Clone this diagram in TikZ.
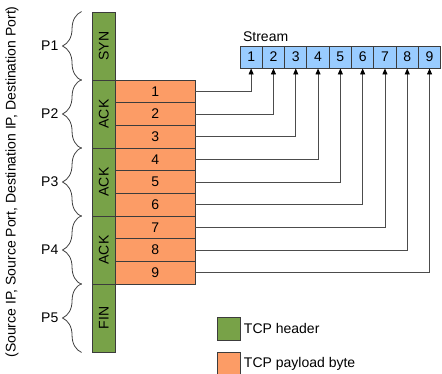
\documentclass[tikz,border=0pt]{standalone}
\usepackage{fontspec}
\setmainfont{Liberation Sans}
\usetikzlibrary{arrows.meta,decorations.pathreplacing}
\definecolor{hdrgreen}{RGB}{120,162,72}
\definecolor{payorange}{RGB}{252,156,102}
\definecolor{streamblue}{RGB}{153,204,255}
\definecolor{edgegray}{RGB}{60,60,60}
\tikzset{
  hdr/.style={draw=edgegray, fill=hdrgreen, line width=0.9pt, minimum width=23.7pt, minimum height=68pt, inner sep=0pt},
  pay/.style={draw=edgegray, fill=payorange, line width=0.9pt, minimum width=79.3pt, minimum height=22.67pt, inner sep=0pt},
  sbox/.style={draw=edgegray, fill=streamblue, line width=0.9pt, minimum width=22.3pt, minimum height=22pt, inner sep=0pt},
  conn/.style={draw=black!70, line width=0.9pt, -{Triangle[length=6pt,width=5pt,black]}},
  brc/.style={draw=black!75, line width=0.8pt, decorate, decoration={brace, amplitude=19pt}},
  lgbox/.style={draw=edgegray, fill=#1, line width=0.9pt, minimum width=23pt, minimum height=23pt, inner sep=0pt},
}
\begin{document}
\begin{tikzpicture}[x=1pt, y=-1pt, font=\fontsize{14}{16}\selectfont]
\clip (0,0) rectangle (442,373);
\useasboundingbox (0,0) rectangle (442,373);

% vertical label
\node[rotate=90] (tuple) at (12,182) {(Source IP, Source Port, Destination IP, Destination Port)};

% header column
\node[hdr] (h1) at (103.85,46) {\rotatebox{90}{SYN}};
\node[hdr] (h2) at (103.85,114) {\rotatebox{90}{ACK}};
\node[hdr] (h3) at (103.85,182) {\rotatebox{90}{ACK}};
\node[hdr] (h4) at (103.85,250) {\rotatebox{90}{ACK}};
\node[hdr] (h5) at (103.85,318) {\rotatebox{90}{FIN}};

% payload bytes
\foreach \i in {1,...,9}{
  \node[pay] (b\i) at (155.35,{80+22.67*(\i-0.5)}) {\i};
}

% stream
\foreach \i in {1,...,9}{
  \node[sbox] (s\i) at ({240+22.3*(\i-0.5)},57) {\i};
}
\node[anchor=south west] (stream) at (s1.north west) {Stream};

% connectors
\foreach \i in {1,...,9}{
  \draw[conn] (b\i.east) -| (s\i.south);
}

% braces
\foreach \i/\lab in {1/P1,2/P2,3/P3,4/P4,5/P5}{
  \coordinate (bt\i) at ([xshift=-10pt]h\i.north west);
  \coordinate (bb\i) at ([xshift=-10pt]h\i.south west);
  \draw[brc] (bb\i) -- (bt\i);
  \node[anchor=east, inner sep=1pt] (p\i) at ([xshift=-32pt]h\i.west) {\lab};
}

% legend
\node[lgbox=hdrgreen] (lg1) at (228.5,328.5) {};
\node[anchor=west] (lt1) at (lg1.east) {TCP header};
\node[lgbox=payorange] (lg2) at (228.5,363.5) {};
\node[anchor=west] (lt2) at (lg2.east) {TCP payload byte};
\end{tikzpicture}
\end{document}
